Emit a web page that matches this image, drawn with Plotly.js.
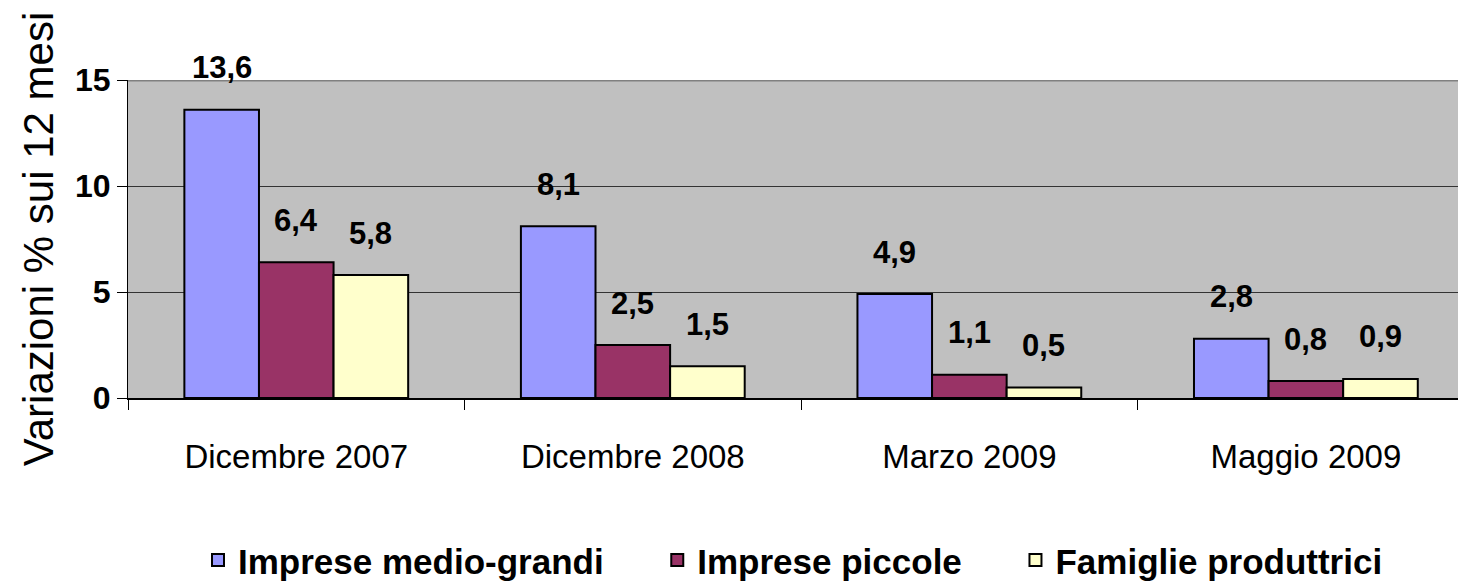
<!DOCTYPE html>
<html>
<head>
<meta charset="utf-8">
<script src="https://cdn.plot.ly/plotly-3.0.1.min.js"></script>
<style>
html,body{margin:0;padding:0;background:#fff;overflow:hidden;}
#chart{width:1458px;height:582px;}
</style>
</head>
<body>
<div id="chart"></div>
<script>
const categories = ["Dicembre 2007", "Dicembre 2008", "Marzo 2009", "Maggio 2009"];
const seriesNames = ["Imprese medio-grandi", "Imprese piccole", "Famiglie produttrici"];
const impreseMedioGrandi = [13.6, 8.1, 4.9, 2.8];
const impresePiccole = [6.4, 2.5, 1.1, 0.8];
const famiglieProduttrici = [5.8, 1.5, 0.5, 0.9];
const yTicks = [0, 5, 10, 15];
const yTitle = "Variazioni % sui 12 mesi";

const seriesValues = [impreseMedioGrandi, impresePiccole, famiglieProduttrici];
const colors = ["#9999FF", "#993366", "#FFFFCC"];

const font = "Liberation Sans, Arial, sans-serif";

const W = 1458, H = 582;
const margin = {l: 128, r: 0, t: 80, b: 184, autoexpand: false};
const xRange = [-0.5, 3.452];
const bargap = 0.335;
const legendPad = "\u00a0".repeat(5);

const traces = seriesValues.map((vals, i) => ({
  type: "bar",
  name: seriesNames[i] + (i < seriesValues.length - 1 ? legendPad : ""),
  x: categories,
  y: vals,
  marker: {color: colors[i], line: {color: "#000000", width: 2}},
  hoverinfo: "skip"
}));

const plotW = W - margin.l - margin.r;
const pxPerCat = plotW / (xRange[1] - xRange[0]);
const barPx = pxPerCat * (1 - bargap) / seriesValues.length;

const annotations = [];
seriesValues.forEach((vals, s) => {
  vals.forEach((v, c) => {
    annotations.push({
      x: categories[c], y: v, xref: "x", yref: "y",
      text: v.toFixed(1).replace(".", ","),
      showarrow: false,
      xshift: (s - (seriesValues.length - 1) / 2) * barPx,
      yshift: 42,
      yanchor: "middle",
      font: {family: font, size: 31, color: "#000", weight: "bold"}
    });
  });
});

const layout = {
  width: W, height: H,
  margin: margin,
  paper_bgcolor: "#ffffff",
  plot_bgcolor: "#C0C0C0",
  barmode: "group",
  bargap: bargap,
  bargroupgap: 0,
  showlegend: true,
  legend: {
    orientation: "h", x: 0.5, xanchor: "center", y: -0.51, yanchor: "middle",
    font: {family: font, size: 35, color: "#000", weight: "bold"},
    itemwidth: 30
  },
  xaxis: {
    type: "category",
    range: xRange,
    tickson: "boundaries",
    ticks: "outside", ticklen: 10, tickcolor: "#000", tickwidth: 1,
    showline: true, linecolor: "#000", linewidth: 2,
    showgrid: false, zeroline: false,
    ticklabelstandoff: 28,
    tickfont: {family: font, size: 33, color: "#000"}
  },
  yaxis: {
    range: [0, 15],
    tickvals: yTicks,
    ticktext: yTicks.map(String),
    ticks: "outside", ticklen: 10, tickcolor: "#000", tickwidth: 1,
    showline: true, linecolor: "#000", linewidth: 1,
    showgrid: true, gridcolor: "#333333", gridwidth: 1,
    zeroline: false,
    tickfont: {family: font, size: 32, color: "#000", weight: "bold"},
    title: {text: yTitle, font: {family: font, size: 42, color: "#000"}, standoff: 8}
  },
  shapes: [{
    type: "line", xref: "paper", yref: "y", x0: 0, x1: 1, y0: yTicks[yTicks.length - 1], y1: yTicks[yTicks.length - 1],
    line: {color: "#808080", width: 3}
  }],
  annotations: annotations
};

Plotly.newPlot("chart", traces, layout, {displayModeBar: false, staticPlot: true});
</script>
</body>
</html>
